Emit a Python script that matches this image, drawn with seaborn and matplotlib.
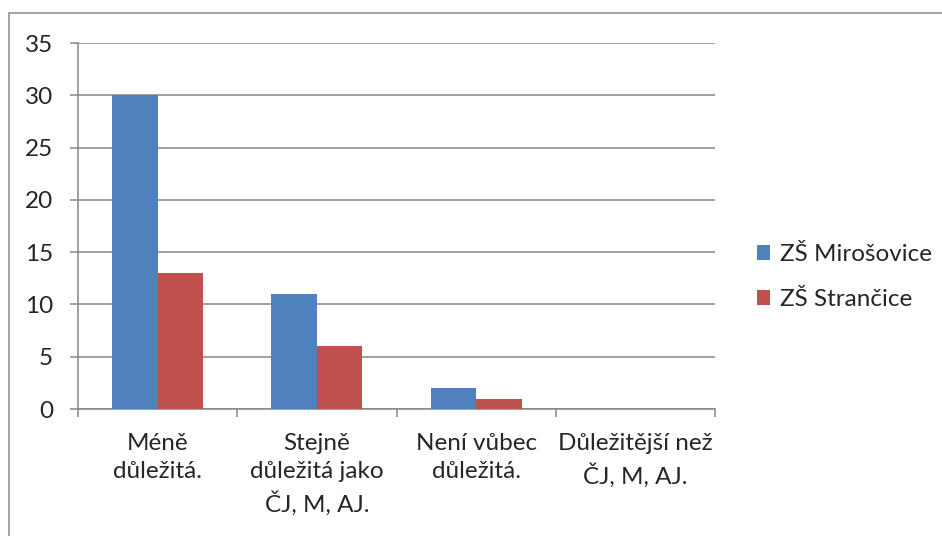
import pandas as pd
import matplotlib.pyplot as plt
import seaborn as sns
from matplotlib.lines import Line2D

# values
categories = ['Méně\ndůležitá.', 'Stejně\ndůležitá jako\nČJ, M, AJ.',
              'Není vůbec\ndůležitá.', 'Důležitější než\nČJ, M, AJ.']
mirosovice = [30, 11, 2, 0]
strancice = [13, 6, 1, 0]
schools = ['ZŠ Mirošovice', 'ZŠ Strančice']
yticks = [0, 5, 10, 15, 20, 25, 30, 35]

df = pd.DataFrame({
    'kategorie': categories * 2,
    'pocet': mirosovice + strancice,
    'skola': [schools[0]] * 4 + [schools[1]] * 4,
})

sns.set_style('white')
plt.rcParams['font.family'] = ['Lato', 'DejaVu Sans']

grid_col = '#868686'
fs = 17.5
fig = plt.figure(figsize=(9.42, 5.36), dpi=100)
ax = fig.add_axes([78 / 942, 1 - 409 / 536, (715 - 78) / 942, (409 - 43) / 536])

sns.barplot(data=df, x='kategorie', y='pocet', hue='skola', order=categories,
            hue_order=schools, palette=['#4F81BD', '#C0504D'],
            width=0.57, gap=0, saturation=1, linewidth=0, ax=ax, zorder=3)

ax.set_xlim(-0.5, 3.5)
ax.set_ylim(0, 35)
ax.set_yticks(yticks)
ax.set_xlabel('')
ax.set_ylabel('')
ax.yaxis.grid(True, color=grid_col, linewidth=1.1, zorder=0)
ax.set_axisbelow(True)

for side in ['top', 'right']:
    ax.spines[side].set_visible(False)
for side in ['left', 'bottom']:
    ax.spines[side].set_color(grid_col)
    ax.spines[side].set_linewidth(1.1)

# excel style ticks: on the category borders, pointing out
ax.set_xticks([-0.5, 0.5, 1.5, 2.5, 3.5])
ax.set_xticklabels([])
ax.set_xticks([0, 1, 2, 3], minor=True)
ax.set_xticklabels(categories, minor=True, fontsize=fs, linespacing=1.44)
ax.tick_params(axis='x', which='major', length=6, width=1.1, color=grid_col, direction='out', bottom=True)
ax.tick_params(axis='x', which='minor', length=0, pad=17)
ax.tick_params(axis='y', length=6, width=1.1, color=grid_col, direction='out', left=True,
               labelsize=fs, pad=12)

handles, labels = ax.get_legend_handles_labels()
ax.legend(handles, labels, loc='center left', bbox_to_anchor=(757 / 942, 1 - 277 / 536),
          bbox_transform=fig.transFigure, frameon=False, fontsize=fs,
          borderpad=0, borderaxespad=0,
          handlelength=0.55, handleheight=0.55, handletextpad=0.4, labelspacing=1.0)

# outer chart border (right and bottom run off the picture)
fig.add_artist(Line2D([9 / 942, 1.01], [1 - 13 / 536, 1 - 13 / 536], color='#8c8c8c', lw=1.1, transform=fig.transFigure))
fig.add_artist(Line2D([9 / 942, 9 / 942], [1 - 13 / 536, -0.01], color='#8c8c8c', lw=1.1, transform=fig.transFigure))

fig.savefig('out.png', dpi=100)
